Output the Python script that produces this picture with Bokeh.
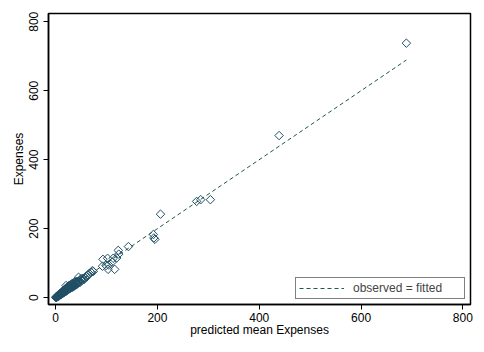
import numpy as np
from bokeh.plotting import figure
from bokeh.models import Range1d, FixedTicker, Legend, LegendItem
from bokeh.embed import file_html
from bokeh.resources import INLINE

# predicted mean Expenses (x) and observed Expenses (y)
predicted = [0.5, 1, 1.5, 2, 2.5, 3, 3.5, 4, 4.5, 5, 5.5, 6, 6.5, 7, 7.5, 8, 8.5, 9, 9.5, 10,
             10.5, 11, 11.5, 12, 12.5, 13, 13.5, 14, 14.5, 15, 15.5, 16, 16.5, 17, 17.5, 18,
             18.5, 19, 19.5, 20, 20.5, 21, 22, 22.5, 23, 24, 24.5, 25, 26, 26.5, 27, 28, 28.5,
             29, 30, 30.5, 31, 32, 33, 33.5, 34, 35, 36, 36.5, 37, 38, 39, 40, 41, 42, 43, 44,
             45, 46, 47, 48, 49, 50, 52, 54, 56, 58, 60, 61, 63, 66, 70, 72, 74,
             92, 93, 99, 102, 103, 104, 111, 113, 116, 120, 123, 124, 143,
             192, 193, 195, 206, 277, 285, 304, 439, 689]
observed = [0, 1, 3, 1, 4, 2, 5, 3, 6, 4, 7, 5, 8, 6, 9, 7, 11, 8, 12, 10,
            13, 9, 14, 12, 16, 11, 17, 13, 19, 14, 20, 16, 22, 15, 23, 18,
            25, 17, 26, 21, 35, 19, 28, 24, 30, 22, 31, 27, 33, 25, 36, 29, 34,
            27, 38, 32, 29, 40, 35, 30, 42, 37, 33, 44, 39, 35, 46, 41, 38, 47, 40, 43,
            59, 45, 49, 44, 52, 55, 50, 56, 53, 57, 62, 60, 65, 70, 73, 78, 76,
            91, 111, 93, 114, 82, 95, 103, 114, 82, 115, 137, 126, 148,
            183, 173, 169, 242, 279, 284, 284, 470, 738]

fit_x = [min(predicted), max(predicted)]
fit_y = [min(predicted), max(predicted)]

x_ticks = [0, 200, 400, 600, 800]
y_ticks = [0, 200, 400, 600, 800]

marker_color = "#1f4e66"
line_color = "#1e5a3c"
font = "Liberation Sans"

p = figure(width=484, height=352, output_backend="svg", toolbar_location=None,
           x_range=Range1d(-14, 815), y_range=Range1d(-20, 824),
           min_border_left=48, min_border_right=14, min_border_top=13, min_border_bottom=48)

p.background_fill_color = "white"
p.border_fill_color = "white"
p.outline_line_color = "black"
p.outline_line_width = 1.5
p.xgrid.visible = False
p.ygrid.visible = False

p.scatter(predicted, observed, marker="square", angle=np.pi / 4, size=6,
          fill_color=None, line_color=marker_color, line_width=1)
fl = p.line(fit_x, fit_y, line_color=line_color, line_dash="4 3", line_width=1)

for ax in (p.xaxis[0], p.yaxis[0]):
    ax.axis_line_color = "black"
    ax.axis_line_width = 1.5
    ax.major_tick_out = 5
    ax.major_tick_in = 0
    ax.minor_tick_out = 0
    ax.minor_tick_in = 0
    ax.major_label_text_font = font
    ax.major_label_text_font_size = "12px"
    ax.major_label_text_color = "black"
    ax.axis_label_text_font = font
    ax.axis_label_text_font_size = "12px"
    ax.axis_label_text_font_style = "normal"
    ax.axis_label_text_color = "black"

p.xaxis.ticker = FixedTicker(ticks=x_ticks)
p.yaxis.ticker = FixedTicker(ticks=y_ticks)
p.xaxis.axis_label = "predicted mean Expenses"
p.yaxis.axis_label = "Expenses"
p.xaxis.major_label_standoff = 3
p.xaxis.axis_label_standoff = -2
p.yaxis.major_label_orientation = "vertical"
p.yaxis.major_label_standoff = 5
p.yaxis.axis_label_standoff = 1

legend = Legend(items=[LegendItem(label="observed = fitted", renderers=[fl])],
                location="bottom_right",
                label_text_font=font, label_text_font_size="12px",
                border_line_color="black", border_line_width=1,
                glyph_width=45, glyph_height=14, label_height=14, label_width=108,
                label_standoff=9, padding=3, spacing=0,
                margin=5, background_fill_alpha=1)
p.add_layout(legend)

open("out.html", "w").write(file_html(p, INLINE))
